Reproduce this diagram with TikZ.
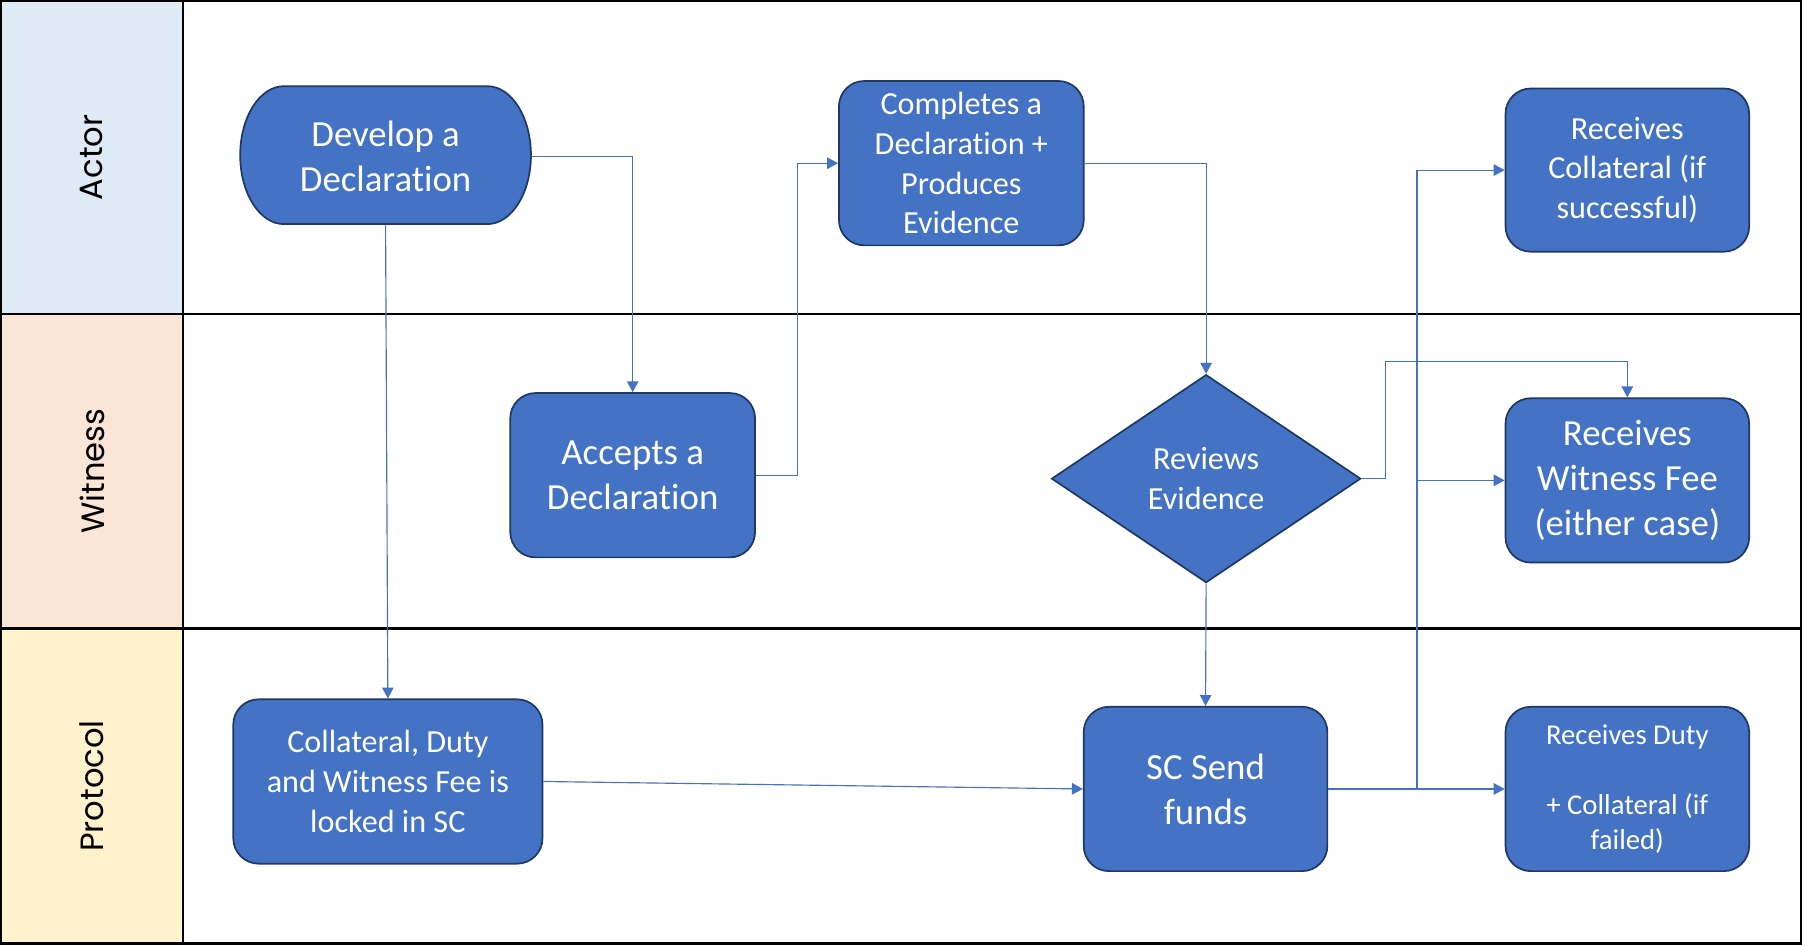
\documentclass[tikz,border=0pt]{standalone}
\usepackage{fontspec}
\setmainfont[Ligatures=NoCommon]{Carlito}
\newfontfamily\lanefont{Poppins}
\usetikzlibrary{arrows.meta,shapes.geometric}
\definecolor{boxblue}{HTML}{4472C4}
\definecolor{boxedge}{HTML}{1F3864}
\definecolor{actorbg}{HTML}{DEEBF7}
\definecolor{witbg}{HTML}{FBE5D6}
\definecolor{protbg}{HTML}{FFF2CC}
\begin{document}
\begin{tikzpicture}[x=1pt,y=-1pt,
  box/.style={draw=boxedge, fill=boxblue, line width=1.5pt, rounded corners=22pt,
    text=white, align=center, inner sep=0pt},
  big/.style={font=\fontsize{32}{39}\selectfont},
  mid/.style={font=\fontsize{28}{34.5}\selectfont},
  conn/.style={draw=boxblue, line width=1pt, -{Triangle[length=9.5pt,width=10pt]}},
  lane/.style={rotate=90, font=\lanefont\fontsize{28}{32}\selectfont}]
\useasboundingbox (0,0) rectangle (1568,822);
% lanes
\fill[actorbg] (0,0) rectangle (159,273);
\fill[witbg] (0,273) rectangle (159,547);
\fill[protbg] (0,547) rectangle (159,822);
\draw[line width=2pt] (1,1) rectangle (1567,821);
\draw[line width=2pt] (159,0) -- (159,822);
\draw[line width=2pt] (0,273) -- (1568,273);
\draw[line width=2pt] (0,547) -- (1568,547);
\node[lane] (lA) at (80,137) {Actor};
\node[lane] (lW) at (80,410) {Witness};
\node[lane] (lP) at (80,684) {Protocol};
% develop shape
\path[fill=boxblue, draw=boxedge, line width=1.5pt] (247,75) -- (424,75)
  arc[start angle=90, end angle=-90, x radius=38pt, y radius=60pt] -- (247,195)
  arc[start angle=270, end angle=90, x radius=38pt, y radius=60pt] -- cycle;
\node[draw=none, minimum width=253pt, minimum height=120pt, inner sep=0pt, text=white, align=center, big] (dev) at (335.5,136) {Develop a\\Declaration};
% boxes
\node[box, big, minimum width=213pt, minimum height=143pt] (acc) at (550.5,413.5) {Accepts a\\Declaration};
\node[box, mid, minimum width=213pt, minimum height=143pt] (comp) at (836.5,142) {Completes a\\Declaration +\\Produces\\Evidence};
\node[diamond, draw=boxedge, fill=boxblue, line width=1.5pt, text=white, align=center, inner sep=0pt,
  minimum width=269pt, minimum height=181pt, shape aspect=1.486, mid] (rev) at (1049.5,416.5) {Reviews\\Evidence};
\node[box, mid, minimum width=212pt, minimum height=142pt] (rc) at (1416,148) {Receives\\Collateral (if\\successful)};
\node[box, big, minimum width=212pt, minimum height=143pt] (wit) at (1416,418) {Receives\\Witness Fee\\(either case)};
\node[box, mid, minimum width=269pt, minimum height=143pt] (coll) at (337.5,680) {Collateral, Duty\\and Witness Fee is\\locked in SC};
\node[box, big, minimum width=212pt, minimum height=143pt] (sc) at (1049,686.5) {SC Send\\funds};
\node[box, font=\fontsize{25}{30.5}\selectfont, minimum width=212pt, minimum height=143pt] (duty) at (1416,686.5) {Receives Duty\\[30.5pt]+ Collateral (if\\failed)};
% connectors
\draw[conn] (dev.east) -| (acc.north);
\draw[conn] (dev.south) -- (coll.north);
\draw[conn] (acc.east) -- ++(36,0) |- (comp.west);
\draw[conn] (comp.east) -| (rev.north);
\draw[conn] (rev.east) -- ++(21,0) |- ([yshift=31pt]wit.north) -- (wit.north);
\draw[conn] (rev.south) -- (sc.north);
\draw[conn] (coll.east) -- (sc.west);
\draw[conn] (sc.east) -- (duty.west);
\coordinate (split) at (1233,686.5);
\draw[conn] (split) |- (rc.west);
\draw[conn] (split) |- (wit.west);
\end{tikzpicture}
\end{document}
